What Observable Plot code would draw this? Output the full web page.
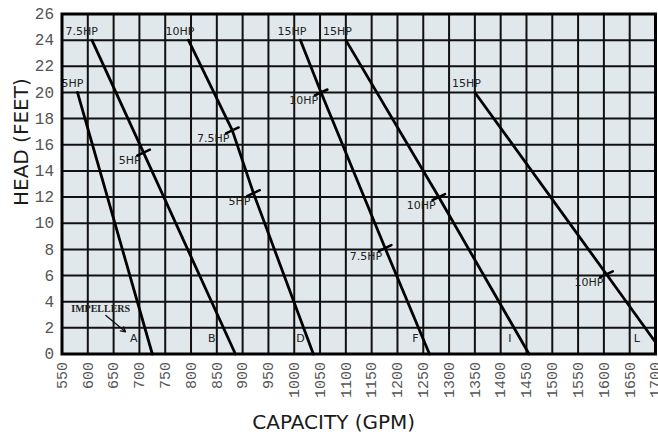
<!DOCTYPE html>
<html>
<head>
<meta charset="utf-8">
<script src="https://cdn.jsdelivr.net/npm/d3@7"></script>
<script src="https://cdn.jsdelivr.net/npm/@observablehq/plot@0.6"></script>
<style>
  html, body { margin: 0; padding: 0; background: #fff; }
  #chart svg { display: block; }
</style>
</head>
<body>
<div id="chart"></div>
<script>
// ---- Data ----
const impellers = ["A", "B", "D", "F", "I", "L"];
const startHP = ["5HP", "7.5HP", "10HP", "15HP", "15HP", "15HP"];
const curveGPM = [
  [580, 725],
  [608, 708, 886],
  [795, 880, 921, 1037],
  [1012, 1052, 1176, 1262],
  [1100, 1280, 1455],
  [1350, 1605, 1700]
];
const curveHead = [
  [20, 0],
  [24, 15.4, 0],
  [24, 17.1, 12.3, 0],
  [24, 20, 8.1, 0],
  [24, 12, 0],
  [20, 6.1, 0.9]
];
// horsepower change points along the curves
const changeGPM = [708, 880, 921, 1052, 1176, 1280, 1605];
const changeHead = [15.4, 17.1, 12.3, 20, 8.1, 12, 6.1];
const changeHP = ["5HP", "7.5HP", "5HP", "10HP", "7.5HP", "10HP", "10HP"];
// impeller letter annotations
const letterGPM = [689, 840, 1012, 1235, 1418, 1664];
const letterHead = [1.2, 1.2, 1.2, 1.2, 1.2, 1.2];
// "IMPELLERS" note and its arrow
const noteText = ["IMPELLERS"];
const noteGPM = [625];
const noteHead = [3.45];
const arrowFromGPM = [635], arrowFromHead = [2.95];
const arrowToGPM = [673], arrowToHead = [1.7];
// axis ticks
const xTicks = d3.range(550, 1701, 50);
const yTicks = d3.range(0, 27, 2);

// ---- Build tables ----
const rows = [];
impellers.forEach((imp, i) => {
  curveGPM[i].forEach((g, j) => rows.push({impeller: imp, gpm: g, head: curveHead[i][j]}));
});
const starts = impellers.map((imp, i) => ({label: startHP[i], gpm: curveGPM[i][0], head: curveHead[i][0]}));
const changes = changeGPM.map((g, i) => ({gpm: g, head: changeHead[i], label: changeHP[i]}));
const letters = impellers.map((imp, i) => ({label: imp, gpm: letterGPM[i], head: letterHead[i]}));
const notes = noteText.map((t, i) => ({label: t, gpm: noteGPM[i], head: noteHead[i]}));
const arrows = arrowFromGPM.map((g, i) => ({x1: g, y1: arrowFromHead[i], x2: arrowToGPM[i], y2: arrowToHead[i]}));

const tickShape = {
  draw(context, l) { context.moveTo(0, 0); context.lineTo(0, -l); }
};

const chart = Plot.plot({
  width: 658,
  height: 435,
  marginLeft: 61.5,
  marginRight: 3,
  marginTop: 13.5,
  marginBottom: 81.5,
  style: {background: "#fff", fontFamily: "DejaVu Sans"},
  x: {domain: [550, 1700]},
  y: {domain: [0, 26]},
  marks: [
    Plot.frame({fill: "#e0e8eb", stroke: null}),
    Plot.gridX(xTicks, {stroke: "#111", strokeOpacity: 1, strokeWidth: 2}),
    Plot.gridY(yTicks, {stroke: "#111", strokeOpacity: 1, strokeWidth: 2}),
    Plot.axisX(xTicks, {
      tickSize: 0, tickPadding: 8, tickRotate: -90, fontSize: 15,
      tickFormat: d => String(d),
      fontFamily: "Liberation Mono", fill: "#555", label: null
    }),
    Plot.axisY(yTicks, {
      tickSize: 0, tickPadding: 8, fontSize: 16,
      tickFormat: d => String(d),
      fontFamily: "Liberation Mono", fill: "#555", label: null
    }),
    Plot.line(rows, {x: "gpm", y: "head", z: "impeller", stroke: "#000", strokeWidth: 2.8}),
    Plot.vector(changes, {
      x: "gpm", y: "head", length: 14, rotate: 65, anchor: "middle",
      shape: tickShape, stroke: "#000", strokeWidth: 2.5
    }),
    Plot.text(changes, {
      x: "gpm", y: "head", text: "label", textAnchor: "end", lineAnchor: "top",
      dx: -3, dy: 4, fontSize: 11, fill: "#222", fontFamily: "DejaVu Sans"
    }),
    Plot.text(starts, {
      x: "gpm", y: "head", text: "label", textAnchor: "end", lineAnchor: "bottom",
      dx: 6, dy: -5, fontSize: 11, fill: "#222", fontFamily: "DejaVu Sans"
    }),
    Plot.text(letters, {
      x: "gpm", y: "head", text: "label", fontSize: 11, fill: "#222", fontFamily: "DejaVu Sans"
    }),
    Plot.text(notes, {
      x: "gpm", y: "head", text: "label", fontSize: 10, fontWeight: "bold",
      fill: "#222", fontFamily: "Liberation Serif"
    }),
    Plot.arrow(arrows, {
      x1: "x1", y1: "y1", x2: "x2", y2: "y2", stroke: "#111", strokeWidth: 1.3,
      headLength: 6, bend: 0
    }),
    Plot.frame({stroke: "#000", strokeWidth: 3}),
    Plot.text(["HEAD (FEET)"], {
      frameAnchor: "left", rotate: -90, text: d => d, lineAnchor: "bottom",
      dx: -34, dy: 22, fontSize: 20, fill: "#1a1a1a", fontFamily: "DejaVu Sans"
    }),
    Plot.text(["CAPACITY (GPM)"], {
      frameAnchor: "bottom", text: d => d, lineAnchor: "bottom",
      dx: -25, dy: 74.5, fontSize: 20, fill: "#1a1a1a", fontFamily: "DejaVu Sans"
    })
  ]
});
document.getElementById("chart").appendChild(chart);
</script>
</body>
</html>
